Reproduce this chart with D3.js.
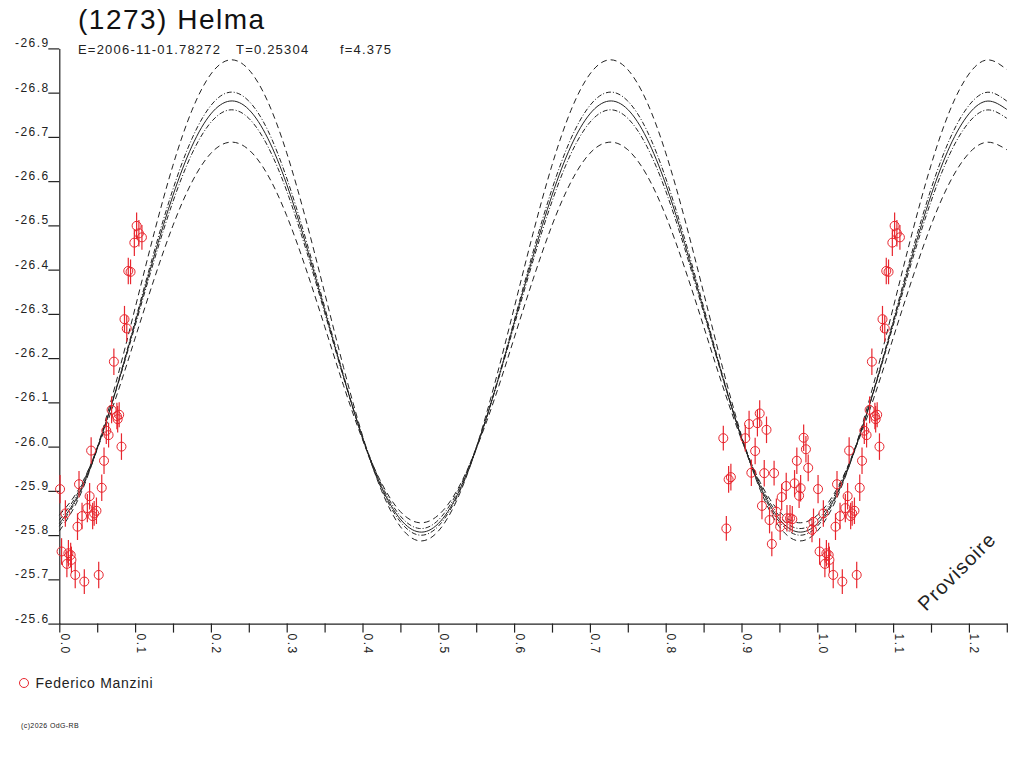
<!DOCTYPE html>
<html>
<head>
<meta charset="utf-8">
<script src="https://cdn.jsdelivr.net/npm/d3@7"></script>
<style>
body { margin: 0; background: #fff; }
svg text { font-family: "Liberation Sans", Arial, sans-serif; fill: #222; }
</style>
</head>
<body>
<div id="wrapper"></div>
<script>
// fitted light curve, every 0.025 of phase (0 .. 0.975)
const fitPhase = [0, 0.025, 0.05, 0.075, 0.1, 0.125, 0.15, 0.175, 0.2, 0.225,
    0.25, 0.275, 0.3, 0.325, 0.35, 0.375, 0.4, 0.425, 0.45, 0.475,
    0.5, 0.525, 0.55, 0.575, 0.6, 0.625, 0.65, 0.675, 0.7, 0.725,
    0.75, 0.775, 0.8, 0.825, 0.85, 0.875, 0.9, 0.925, 0.95, 0.975];

const fitMid = [-25.826, -25.891, -25.996, -26.129, -26.279, -26.430, -26.568, -26.679, -26.752, -26.781,
    -26.762, -26.697, -26.593, -26.459, -26.309, -26.158, -26.020, -25.909, -25.836, -25.807,
    -25.826, -25.891, -25.996, -26.129, -26.279, -26.430, -26.568, -26.679, -26.752, -26.781,
    -26.762, -26.697, -26.593, -26.459, -26.309, -26.158, -26.020, -25.909, -25.836, -25.807];

const fitDashHigh = [-25.809, -25.881, -25.997, -26.146, -26.313, -26.482, -26.636, -26.760, -26.842, -26.874,
    -26.852, -26.780, -26.664, -26.515, -26.348, -26.179, -26.025, -25.901, -25.819, -25.787,
    -25.809, -25.881, -25.997, -26.146, -26.313, -26.482, -26.636, -26.760, -26.842, -26.874,
    -26.852, -26.780, -26.664, -26.515, -26.348, -26.179, -26.025, -25.901, -25.819, -25.787];

const fitDashLow = [-25.845, -25.902, -25.995, -26.112, -26.245, -26.378, -26.500, -26.598, -26.663, -26.688,
    -26.671, -26.614, -26.522, -26.404, -26.272, -26.138, -26.016, -25.918, -25.853, -25.828,
    -25.845, -25.902, -25.995, -26.112, -26.245, -26.378, -26.500, -26.598, -26.663, -26.688,
    -26.671, -26.614, -26.522, -26.404, -26.272, -26.138, -26.016, -25.918, -25.853, -25.828];

const fitDotHigh = [-25.820, -25.887, -25.994, -26.131, -26.284, -26.440, -26.582, -26.696, -26.771, -26.801,
    -26.781, -26.715, -26.607, -26.470, -26.316, -26.161, -26.019, -25.905, -25.830, -25.800,
    -25.820, -25.887, -25.994, -26.131, -26.284, -26.440, -26.582, -26.696, -26.771, -26.801,
    -26.781, -26.715, -26.607, -26.470, -26.316, -26.161, -26.019, -25.905, -25.830, -25.800];

const fitDotLow = [-25.834, -25.897, -25.998, -26.128, -26.273, -26.420, -26.554, -26.662, -26.733, -26.761,
    -26.742, -26.679, -26.578, -26.448, -26.303, -26.156, -26.022, -25.914, -25.843, -25.815,
    -25.834, -25.897, -25.998, -26.128, -26.273, -26.420, -26.554, -26.662, -26.733, -26.761,
    -26.742, -26.679, -26.578, -26.448, -26.303, -26.156, -26.022, -25.914, -25.843, -25.815];

// observations (Federico Manzini)
const obsPhase = [0.001, 0.008, 0.003, 0.012, 0.015, 0.016, 0.010, 0.021, 0.033, 0.052,
    0.024, 0.030, 0.026, 0.040, 0.037, 0.046, 0.049, 0.044, 0.056, 0.042,
    0.059, 0.062, 0.065, 0.069, 0.076, 0.079, 0.077, 0.082, 0.072, 0.086,
    0.089, 0.091, 0.094, 0.099, 0.102, 0.105, 0.109,
    0.876, 0.880, 0.883, 0.886, 0.905, 0.910, 0.918, 0.921, 0.924, 0.933,
    0.913, 0.930, 0.943, 0.959, 0.970, 0.953, 0.976, 0.978, 0.973, 0.982,
    0.985, 0.988, 0.927, 0.937, 0.946, 0.951, 0.940, 0.960, 0.964, 0.967,
    0.995, 0.993];
const obsMag = [-25.904, -25.849, -25.763, -25.759, -25.755, -25.744, -25.735, -25.710, -25.695, -25.710,
    -25.819, -25.843, -25.915, -25.888, -25.861, -25.849, -25.855, -25.843, -25.907, -25.991,
    -25.968, -26.036, -26.026, -26.083, -26.069, -26.072, -26.062, -26.000, -26.192, -26.288,
    -26.267, -26.397, -26.395, -26.461, -26.499, -26.482, -26.473,
    -26.019, -25.815, -25.926, -25.931, -26.019, -26.051, -25.990, -26.053, -26.075, -26.038,
    -25.941, -25.940, -25.940, -25.911, -25.917, -25.886, -25.889, -25.906, -25.968, -26.020,
    -25.994, -25.952, -25.866, -25.834, -25.853, -25.819, -25.780, -25.838, -25.838, -25.836,
    -25.830, -25.812];
const obsErr = [0.032, 0.030, 0.030, 0.030, 0.028, 0.030, 0.030, 0.030, 0.028, 0.030,
    0.030, 0.030, 0.030, 0.030, 0.032, 0.028, 0.030, 0.030, 0.030, 0.030,
    0.030, 0.030, 0.028, 0.030, 0.030, 0.028, 0.030, 0.030, 0.030, 0.030,
    0.030, 0.030, 0.028, 0.030, 0.030, 0.030, 0.028,
    0.028, 0.028, 0.030, 0.030, 0.030, 0.030, 0.030, 0.030, 0.030, 0.030,
    0.030, 0.030, 0.028, 0.030, 0.030, 0.030, 0.028, 0.030, 0.030, 0.030,
    0.030, 0.030, 0.030, 0.030, 0.030, 0.030, 0.028, 0.030, 0.030, 0.030,
    0.030, 0.028];

const yTicks = [-26.9, -26.8, -26.7, -26.6, -26.5, -26.4, -26.3, -26.2, -26.1, -26.0,
    -25.9, -25.8, -25.7, -25.6];
const xTicks = [0, 0.05, 0.1, 0.15, 0.2, 0.25, 0.3, 0.35, 0.4, 0.45, 0.5, 0.55, 0.6,
    0.65, 0.7, 0.75, 0.8, 0.85, 0.9, 0.95, 1.0, 1.05, 1.1, 1.15, 1.2, 1.25];
const xLabels = [0, 0.1, 0.2, 0.3, 0.4, 0.5, 0.6, 0.7, 0.8, 0.9, 1.0, 1.1, 1.2];

const titleText = "(1273) Helma";
const infoTexts = ["E=2006-11-01.78272", "T=0.25304", "f=4.375"];
const observer = "Federico Manzini";

var dimension = {
    width: 1024,
    height: 768,
    left: 59.3,
    right: 1006.8,
    top: 48.4,
    bottom: 623.6
};
const red = "#e8262e";
const ink = "#222";

const svg = d3.select("#wrapper")
    .append("svg")
    .attr("width", dimension.width)
    .attr("height", dimension.height);

const x = d3.scaleLinear().domain([0, 1.25]).range([dimension.left, dimension.right]);
const y = d3.scaleLinear().domain([-26.9, -25.6]).range([dimension.top, dimension.bottom]);

// axes
const yAxis = svg.append("g")
    .attr("transform", `translate(${dimension.left},0)`)
    .call(d3.axisLeft(y).tickValues(yTicks).tickSize(11).tickSizeOuter(0)
        .tickFormat(d => d.toFixed(1)));
yAxis.selectAll("text")
    .attr("x", -9.5)
    .attr("dy", -1.5)
    .style("font-size", "12px")
    .style("letter-spacing", "1.5px")
    .style("fill", ink);

const xAxis = svg.append("g")
    .attr("transform", `translate(0,${dimension.bottom})`)
    .call(d3.axisBottom(x).tickValues(xTicks).tickSize(9).tickSizeOuter(0)
        .tickFormat(d => xLabels.some(l => Math.abs(l - d) < 1e-9) ? d.toFixed(1) : ""));
xAxis.selectAll("text")
    .attr("transform", "rotate(90)")
    .attr("x", 10)
    .attr("y", -1)
    .attr("dy", 0)
    .style("text-anchor", "start")
    .style("font-size", "12px")
    .style("letter-spacing", "1.5px")
    .style("fill", ink);

svg.selectAll(".domain, .tick line").style("stroke", ink).style("stroke-width", 1.2);

// fit curves, repeated past phase 1
function wrapCurve(vals) {
    const pts = [];
    for (let k = 0; k <= 50; k++) {
        pts.push({p: fitPhase[k % 40] + Math.floor(k / 40), v: vals[k % 40]});
    }
    return pts;
}
const line = d3.line()
    .x(d => x(d.p))
    .y(d => y(d.v))
    .curve(d3.curveNatural);

const curves = [
    {vals: fitDashHigh, dash: "6,4"},
    {vals: fitDashLow, dash: "6,4"},
    {vals: fitDotHigh, dash: "5,2,1,2"},
    {vals: fitDotLow, dash: "5,2,1,2"},
    {vals: fitMid, dash: null}
];
svg.append("g")
    .selectAll("path")
    .data(curves)
    .enter()
    .append("path")
    .attr("d", d => line(wrapCurve(d.vals)))
    .attr("fill", "none")
    .attr("stroke", ink)
    .attr("stroke-width", 1)
    .attr("stroke-dasharray", d => d.dash);

// observations, those before phase 0.25 are shown again one cycle later
var obs = [];
for (let i = 0; i < obsPhase.length; i++) {
    obs.push({p: obsPhase[i], v: obsMag[i], e: obsErr[i]});
    if (obsPhase[i] < 0.25) obs.push({p: obsPhase[i] + 1, v: obsMag[i], e: obsErr[i]});
}
const points = svg.append("g")
    .selectAll("g")
    .data(obs)
    .enter()
    .append("g");
points.append("line")
    .attr("x1", d => x(d.p))
    .attr("x2", d => x(d.p))
    .attr("y1", d => y(d.v - d.e))
    .attr("y2", d => y(d.v + d.e))
    .attr("stroke", red)
    .attr("stroke-width", 1.2);
points.append("circle")
    .attr("cx", d => x(d.p))
    .attr("cy", d => y(d.v))
    .attr("r", 4.5)
    .attr("fill", "none")
    .attr("stroke", red)
    .attr("stroke-width", 1);

// titles
svg.append("text")
    .attr("x", 78)
    .attr("y", 28.5)
    .style("font-size", "28px")
    .style("letter-spacing", "1.5px")
    .style("fill", "#111")
    .text(titleText);

svg.append("g")
    .selectAll("text")
    .data(infoTexts)
    .enter()
    .append("text")
    .attr("x", (d, i) => [78, 236, 340][i])
    .attr("y", 54)
    .style("font-size", "13px")
    .style("letter-spacing", "1.2px")
    .text(d => d);

// legend
svg.append("circle")
    .attr("cx", 24)
    .attr("cy", 683)
    .attr("r", 4.5)
    .attr("fill", "none")
    .attr("stroke", red);
svg.append("text")
    .attr("x", 35.5)
    .attr("y", 688)
    .style("font-size", "14px")
    .style("letter-spacing", "0.7px")
    .text(observer);

svg.append("text")
    .attr("x", 21)
    .attr("y", 728)
    .style("font-size", "7px")
    .style("letter-spacing", "0.4px")
    .text("(c)2026 OdG-RB");

svg.append("text")
    .attr("transform", "translate(926,612) rotate(-45)")
    .style("font-size", "20px")
    .style("letter-spacing", "1.2px")
    .text("Provisoire");
</script>
</body>
</html>
